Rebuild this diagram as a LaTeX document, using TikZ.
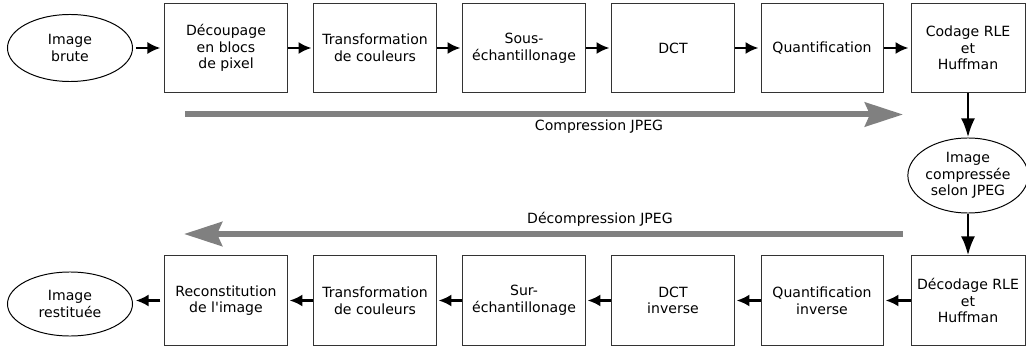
\documentclass[tikz,border=0pt]{standalone}
\usepackage{fontspec}
\setmainfont{DejaVu Sans}
\usetikzlibrary{arrows.meta,shapes.geometric}
\definecolor{gris}{RGB}{128,128,128}

\begin{document}
\begin{tikzpicture}[x=0.025cm,y=-0.025cm,
  font=\fontsize{10}{11.9}\selectfont,
  etape/.style={draw=black!80,line width=0.7pt,minimum width=3.05cm,minimum height=2.225cm,align=center,inner sep=1pt},
  img/.style={draw=black,line width=0.7pt,ellipse,inner sep=0pt,minimum width=3.125cm,minimum height=1.675cm,align=center},
  fleche/.style={-{Latex[length=0.32cm,width=0.3cm]},line width=1.5pt,shorten >=1.5pt},
  flechev/.style={-{Latex[length=0.475cm,width=0.35cm]},line width=2.1pt},
  flechegris/.style={-{Stealth[length=0.95cm,width=0.6cm,inset=0.125cm]},line width=0.15cm,draw=gris}]
\useasboundingbox (0,0) rectangle (1026,347);

% compression
\node[img] (brute) at (70,48) {Image\\brute};
\node[etape] (decoup) at (226,48) {Découpage\\en blocs\\de pixel};
\node[etape] (transf) at (375,48) {Transformation\\de couleurs};
\node[etape] (sous) at (524,48) {Sous-\\échantillonage};
\node[etape] (dct) at (673,48) {DCT};
\node[etape] (quant) at (822,48) {Quantification};
\node[etape,minimum width=2.85cm] (codage) at (968,48) {Codage RLE\\et\\Huffman};

\draw[fleche,shorten <=2pt,shorten >=3pt] (brute) -- (decoup);
\draw[fleche] (decoup) -- (transf);
\draw[fleche] (transf) -- (sous);
\draw[fleche] (sous) -- (dct);
\draw[fleche] (dct) -- (quant);
\draw[fleche] (quant) -- (codage);

\coordinate (c1) at (185,114.5);
\coordinate (c2) at (903,114.5);
\draw[flechegris] (c1) -- (c2);
\node (lcomp) at (599,127) {Compression JPEG};

% image compressee
\node[img,minimum width=3cm,minimum height=1.875cm] (compr) at (968,175.5) {Image\\compressée\\selon JPEG};
\draw[flechev] (codage) -- (compr);

% decompression
\node[etape,minimum width=2.85cm] (decod) at (968,300.5) {Décodage RLE\\et\\Huffman};
\node[etape] (quantinv) at (822,300.5) {Quantification\\inverse};
\node[etape] (dctinv) at (673,300.5) {DCT\\inverse};
\node[etape] (sur) at (524,300.5) {Sur-\\échantillonage};
\node[etape] (transfinv) at (375,300.5) {Transformation\\de couleurs};
\node[etape] (recons) at (226,300.5) {Reconstitution\\de l\textquotesingle image};
\node[img,minimum height=1.6cm] (restit) at (70,304) {Image\\restituée};

\draw[flechev] (compr) -- (decod);
\draw[fleche] (decod) -- (quantinv);
\draw[fleche] (quantinv) -- (dctinv);
\draw[fleche] (dctinv) -- (sur);
\draw[fleche] (sur) -- (transfinv);
\draw[fleche] (transfinv) -- (recons);
\draw[fleche,shorten <=3pt,shorten >=2pt] (recons.west) -- (restit.east |- recons.west);

\coordinate (d1) at (903,234);
\coordinate (d2) at (184,234);
\draw[flechegris] (d1) -- (d2);
\node (ldecomp) at (600,219) {Décompression JPEG};
\end{tikzpicture}
\end{document}
